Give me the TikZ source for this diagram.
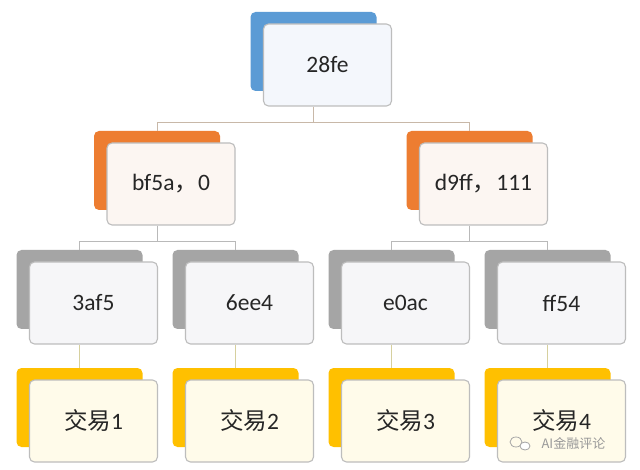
\documentclass[tikz,border=0pt]{standalone}
\usepackage{fontspec}
\setmainfont{Carlito}
\newfontfamily\cjk{Noto Sans CJK SC}
\definecolor{cblue}{HTML}{5B9BD5}
\definecolor{corange}{HTML}{ED7D31}
\definecolor{cgray}{HTML}{A5A5A5}
\definecolor{cgold}{HTML}{FFC000}
\definecolor{fblue}{HTML}{F4F7FC}
\definecolor{forange}{HTML}{FCF6F2}
\definecolor{fgray}{HTML}{F6F6F8}
\definecolor{fgold}{HTML}{FFFBEA}
\definecolor{frame}{HTML}{BDBDBD}
\definecolor{lineA}{HTML}{C8B8A8}
\definecolor{lineB}{HTML}{B9B9B9}
\definecolor{lineC}{HTML}{D6D09E}
\tikzset{
  backbox/.style={rounded corners=5pt, minimum width=126pt, minimum height=79pt, inner sep=0pt},
  frontbox/.style={rounded corners=5pt, draw=frame, line width=1.1pt, minimum width=128pt, minimum height=82pt, inner sep=0pt, text=black!85, font=\fontsize{23.5}{26}\selectfont},
  conn/.style={line width=1pt}
}
% #1 name, #2 back centre x, #3 top y, #4 back colour, #5 front fill, #6 text
\newcommand\mygroup[6]{%
  \node[backbox, fill=#4] (#1back) at (#2,#3+39.5) {};
  \node[frontbox, fill=#5] (#1) at (#2+14,#3+53) {#6};
}
\begin{document}
\begin{tikzpicture}[x=1pt,y=-1pt]
\useasboundingbox[fill=white] (0,0) rectangle (640,470);
\mygroup{r}{313.5}{12}{cblue}{fblue}{28fe}
\mygroup{p}{157}{131}{corange}{forange}{bf5a{\cjk ，}0}
\mygroup{q}{469.5}{131}{corange}{forange}{d9ff{\cjk ，}111}
\mygroup{pA}{79.5}{250}{cgray}{fgray}{3af5}
\mygroup{pB}{235.5}{250}{cgray}{fgray}{6ee4}
\mygroup{qA}{391.5}{250}{cgray}{fgray}{e0ac}
\mygroup{qB}{547.5}{250}{cgray}{fgray}{ff54}
\mygroup{tA}{79.5}{368}{cgold}{fgold}{{\cjk 交易}1}
\mygroup{tB}{235.5}{368}{cgold}{fgold}{{\cjk 交易}2}
\mygroup{tC}{391.5}{368}{cgold}{fgold}{{\cjk 交易}3}
\mygroup{tD}{547.5}{368}{cgold}{fgold}{{\cjk 交易}4}
% connectors
\draw[conn, lineA] (rback |- r.south) -- ++(0,16) coordinate (rj) -| (pback.north);
\draw[conn, lineA] (rj) -| (qback.north);
\draw[conn, lineB] (pback |- p.south) -- ++(0,16) coordinate (pj) -| (pAback.north);
\draw[conn, lineB] (pj) -| (pBback.north);
\draw[conn, lineB] (qback |- q.south) -- ++(0,16) coordinate (qj) -| (qAback.north);
\draw[conn, lineB] (qj) -| (qBback.north);
\draw[conn, lineC] (pAback |- pA.south) -- (tAback.north);
\draw[conn, lineC] (pBback |- pB.south) -- (tBback.north);
\draw[conn, lineC] (qAback |- qA.south) -- (tCback.north);
\draw[conn, lineC] (qBback |- qB.south) -- (tDback.north);
% watermark
\draw[gray!70, line width=0.8pt] (516,442) ellipse (6pt and 5pt);
\draw[gray!70, line width=0.8pt, fill=white] (525,446) ellipse (5pt and 4pt);
\node[text=gray!80, font=\cjk\fontsize{13}{15}\selectfont, anchor=west] (wm) at (538,444) {AI金融评论};
\end{tikzpicture}
\end{document}
